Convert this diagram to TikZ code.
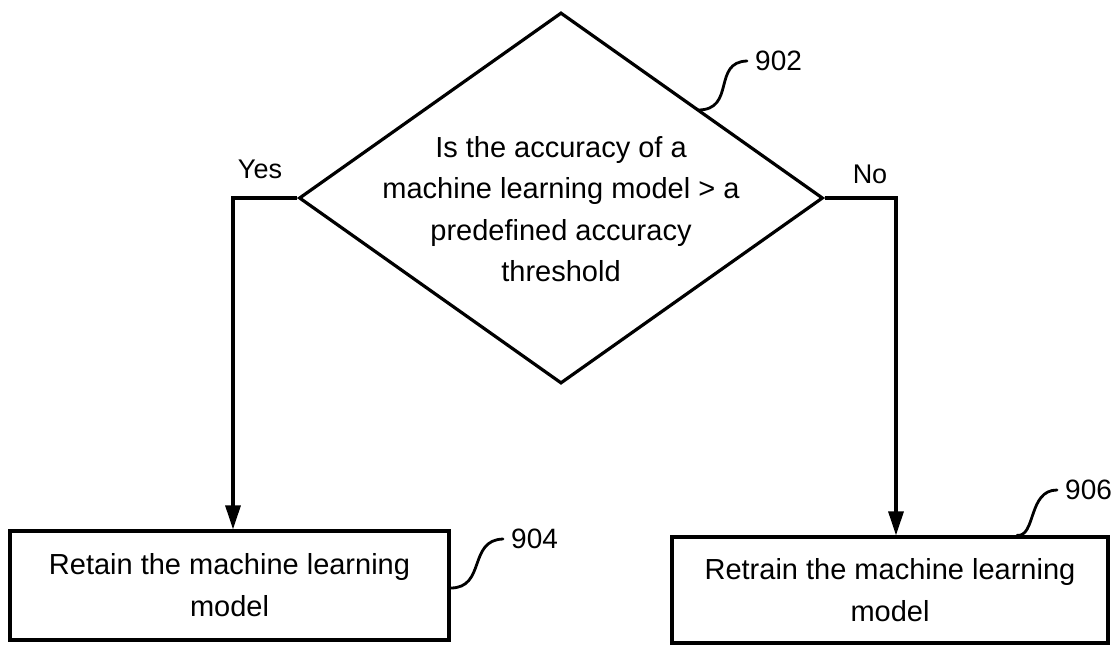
\documentclass[tikz,border=0pt]{standalone}
\usepackage{fontspec}
\setmainfont{Liberation Sans}
\usetikzlibrary{shapes.geometric,arrows.meta}
\begin{document}
\begin{tikzpicture}[x=1pt,y=-1pt,
  decision/.style={diamond, draw, line width=3.2pt, inner sep=0pt,
    minimum width=524pt, minimum height=371pt},
  qtext/.style={align=center, inner sep=0pt, font=\fontsize{29}{41.5}\selectfont},
  actionbox/.style={rectangle, draw, line width=3.2pt, inner sep=0pt,
    align=center, font=\fontsize{29}{42}\selectfont},
  tag/.style={font=\fontsize{28}{32}\selectfont, inner sep=0pt, anchor=west},
  branch/.style={font=\fontsize{27}{32}\selectfont, inner sep=0pt},
  leader/.style={line width=2.8pt, line cap=round},
  flow/.style={line width=3.2pt, -{Triangle[length=24pt,width=15pt]}}]
\useasboundingbox (0,0) rectangle (1114,646);

% decision
\node[decision] (q) at (561,198) {};
\node[qtext] (qt) at (561,209) {Is the accuracy of a\\machine learning model > a\\predefined accuracy\\threshold};

% outcomes
\node[actionbox, minimum width=439pt, minimum height=109pt] (keep) at (229.5,585.5)
  {Retain the machine learning\\model};
\node[actionbox, minimum width=436pt, minimum height=106pt] (redo) at (890,590)
  {Retrain the machine learning\\model};

% branches
\coordinate (ybend) at (233,198);
\coordinate (nbend) at (896,198);
\draw[flow] (q.west) -- (ybend) -- (ybend |- keep.north);
\draw[flow] (q.east) -- (nbend) -- (nbend |- redo.north);
\node[branch] (yes) at (260,169) {Yes};
\node[branch] (no) at (870,174) {No};

% reference numerals, each tied to its shape by a wavy leader
\node[tag] (n902) at (755,61) {902};
\node[tag] (n904) at (511,539) {904};
\node[tag] (n906) at (1065,490) {906};
\coordinate (l902) at (698,110);
\coordinate (l904) at (keep.east |- 0,588);
\coordinate (l906) at (redo.north -| 1017,0);
\draw[leader] (l902) .. controls (736,110) and (712,62) .. ([xshift=-8pt]n902.west);
\draw[leader] (l904) .. controls (486,588) and (468,540) .. ([xshift=-8pt]n904.west);
\draw[leader] (l906) .. controls (1036,537) and (1028,490) .. ([xshift=-8pt]n906.west);
\end{tikzpicture}
\end{document}
